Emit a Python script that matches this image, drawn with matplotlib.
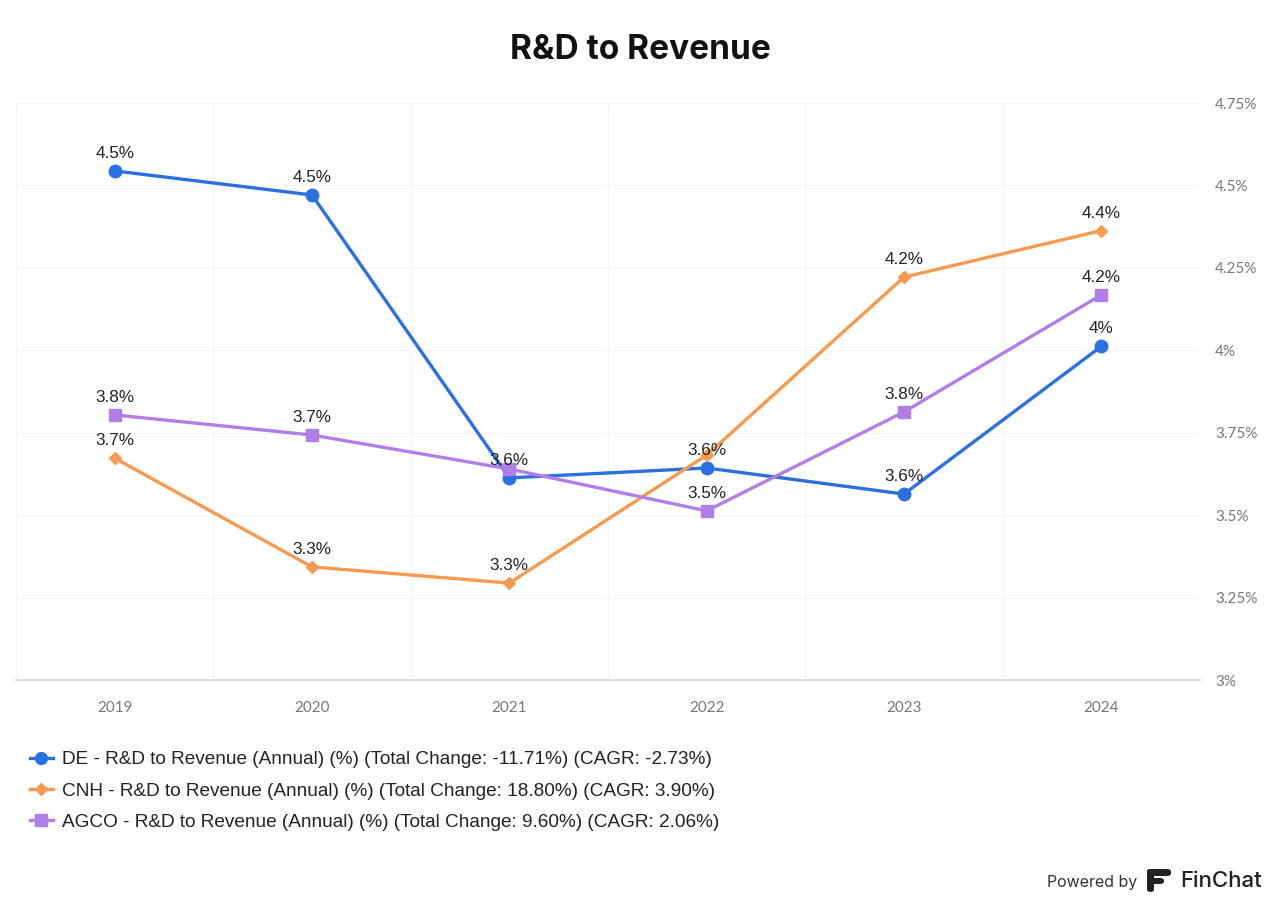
import matplotlib
matplotlib.use("Agg")
import matplotlib.pyplot as plt
from matplotlib.lines import Line2D
from matplotlib.patches import FancyBboxPatch

# ---- data ----
years = ["2019", "2020", "2021", "2022", "2023", "2024"]
de = [4.544, 4.471, 3.613, 3.643, 3.564, 4.012]
cnh = [3.673, 3.343, 3.294, 3.682, 4.222, 4.363]
agco = [3.804, 3.743, 3.640, 3.513, 3.813, 4.168]
series_names = [
    "DE - R&D to Revenue (Annual) (%) (Total Change: -11.71%) (CAGR: -2.73%)",
    "CNH - R&D to Revenue (Annual) (%) (Total Change: 18.80%) (CAGR: 3.90%)",
    "AGCO - R&D to Revenue (Annual) (%) (Total Change: 9.60%) (CAGR: 2.06%)",
]
# labels hidden because of overlap in the original: (series index, point index)
hidden_labels = {(1, 3), (2, 2)}
y_ticks = [3.0, 3.25, 3.5, 3.75, 4.0, 4.25, 4.5, 4.75]

colors = ["#2a70e0", "#f79a4f", "#b07ee8"]
markers = ["o", "D", "s"]
msizes = [9, 6, 8.5]

def pct(v):
    s = f"{v:.2f}".rstrip("0").rstrip(".")
    return s + "%"

def lbl(v):
    s = f"{v:.1f}".rstrip("0").rstrip(".")
    return s + "%"

fig = plt.figure(figsize=(12.8, 9.07), dpi=100)
fig.patch.set_facecolor("white")
ax = fig.add_axes([16 / 1280, 1 - 680 / 907, 1184 / 1280, 577 / 907])
x = list(range(len(years)))

for k, (vals, c, m, ms) in enumerate(zip([de, cnh, agco], colors, markers, msizes)):
    ax.plot(x, vals, color=c, lw=2.4, marker=m, markersize=ms, zorder=3 + k * 0.1,
            solid_capstyle="round")

for k, vals in enumerate([de, cnh, agco]):
    for i, v in enumerate(vals):
        if (k, i) in hidden_labels:
            continue
        ax.annotate(lbl(v), (i, v), xytext=(0, 12.5), textcoords="offset points",
                    ha="center", va="center", fontsize=12.3, color="#222222",
                    family="Liberation Sans", zorder=6)

ax.set_xlim(-0.5, len(years) - 0.5)
ax.set_ylim(y_ticks[0], y_ticks[-1])
ax.set_yticks(y_ticks)
ax.set_yticklabels([pct(t) for t in y_ticks])
ax.set_xticks(x)
ax.set_xticklabels(years)
ax.yaxis.tick_right()
ax.tick_params(axis="y", length=0, pad=11, labelsize=11, labelcolor="#777777")
ax.tick_params(axis="x", length=0, pad=15, labelsize=11, labelcolor="#777777")
for t in ax.get_xticklabels() + ax.get_yticklabels():
    t.set_family("Lato")

# grid
for t in y_ticks:
    ax.axhline(t, color="#f4f4f4", lw=0.8, zorder=0)
for b in [i - 0.5 for i in range(len(years) + 1)]:
    ax.axvline(b, color="#f4f4f4", lw=0.8, zorder=0)
for s in ["top", "right", "left"]:
    ax.spines[s].set_visible(False)
ax.spines["bottom"].set_color("#d6d6d6")
ax.spines["bottom"].set_linewidth(1.2)

fig.text(0.5, 1 - 50 / 907, "R&D to Revenue", ha="center", va="center",
         fontsize=24, fontweight="bold", family="Inter", color="#111111")

handles = [Line2D([0], [0], color=c, lw=2.4, marker=m, markersize=ms * 0.95)
           for c, m, ms in zip(colors, markers, msizes)]
leg = fig.legend(handles, series_names, loc="upper left",
                 bbox_to_anchor=(30 / 1280, 1 - 751 / 907), frameon=False,
                 prop={"family": "Liberation Sans", "size": 13.7},
                 handlelength=1.2, handletextpad=0.5, labelspacing=0.74,
                 borderaxespad=0, borderpad=0)
for t in leg.get_texts():
    t.set_color("#222222")

# footer
fig.text(1137 / 1280, 1 - 882 / 907, "Powered by", ha="right", va="center",
         fontsize=11.5, family="Inter", color="#333333")
fig.text(1180 / 1280, 1 - 881 / 907, "FinChat", ha="left", va="center",
         fontsize=16, family="Inter", fontweight="medium", color="#222222")
# logo
def rbox(x0, y0, w, h):
    p = FancyBboxPatch((x0 / 1280, 1 - (y0 + h) / 907), w / 1280, h / 907,
                       boxstyle="round,pad=0,rounding_size=0.003",
                       transform=fig.transFigure, color="#222222", lw=0)
    fig.patches.append(p)
rbox(1147, 869, 24, 7)
rbox(1147, 878, 17, 6)
rbox(1147, 869, 7, 23)

fig.savefig("out.png", dpi=100, facecolor="white")
